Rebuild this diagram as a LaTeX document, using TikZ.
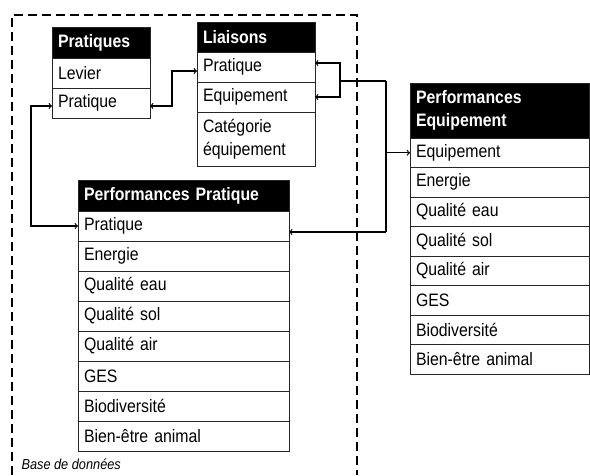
\documentclass[tikz,border=0pt]{standalone}
\usepackage{fontspec}
\setmainfont{Liberation Sans}[FakeStretch=0.88]
\usetikzlibrary{positioning}

\tikzset{
  box/.style={draw=black!85, line width=0.8pt, outer sep=0pt, inner xsep=6pt, inner ysep=0pt,
    minimum height=30pt, align=left, text width=#1, anchor=north west,
    font=\fontsize{18}{23}\selectfont},
  hdr/.style={box=#1, fill=black, text=white, font=\fontsize{18}{23}\selectfont\bfseries},
  cell/.style={box=#1, fill=white},
  link/.style={line width=1.2pt},
}

\begin{document}
\begin{tikzpicture}[x=1pt,y=1pt]
    \useasboundingbox (0,0) rectangle (590,-475);

    % Base de donnees frame
    \draw[line width=1.2pt, dash pattern=on 9pt off 5pt] (12,-475) |- (357,-15) -- (357,-475);
    \node[anchor=west, font=\fontsize{14.5}{16}\selectfont\itshape] (base) at (18,-464) {Base de données};

    % Table Pratiques
    \node[hdr=86pt, minimum height=31pt] (pratTitle) at (52,-27) {Pratiques};
    \node[cell=86pt, below=0pt of pratTitle] (pratLevier) {Levier};
    \node[cell=86pt, below=0pt of pratLevier] (pratPratique) {Pratique};

    % Table Liaisons
    \node[hdr=106pt] (liaTitle) at (197,-22) {Liaisons};
    \node[cell=106pt, below=0pt of liaTitle] (liaPratique) {Pratique};
    \node[cell=106pt, below=0pt of liaPratique] (liaEquip) {Equipement};
    \node[cell=106pt, below=0pt of liaEquip, minimum height=54pt] (liaCat) {Catégorie\\équipement};

    % Table Performances Pratique
    \node[hdr=199pt, minimum height=31pt] (ppTitle) at (78,-180) {Performances Pratique};
    \node[cell=199pt, below=0pt of ppTitle] (ppPratique) {Pratique};
    \node[cell=199pt, below=0pt of ppPratique] (ppEnergie) {Energie};
    \node[cell=199pt, below=0pt of ppEnergie] (ppEau) {Qualité eau};
    \node[cell=199pt, below=0pt of ppEau] (ppSol) {Qualité sol};
    \node[cell=199pt, below=0pt of ppSol] (ppAir) {Qualité air};
    \node[cell=199pt, below=0pt of ppAir] (ppGes) {GES};
    \node[cell=199pt, below=0pt of ppGes] (ppBio) {Biodiversité};
    \node[cell=199pt, below=0pt of ppBio] (ppBien) {Bien-être animal};

    % Table Performances Equipement
    \node[hdr=167pt, minimum height=55pt] (peTitle) at (410,-83) {Performances\\Equipement};
    \node[cell=167pt, minimum height=29.5pt, below=0pt of peTitle] (peEquip) {Equipement};
    \node[cell=167pt, minimum height=29.5pt, below=0pt of peEquip] (peEnergie) {Energie};
    \node[cell=167pt, minimum height=29.5pt, below=0pt of peEnergie] (peEau) {Qualité eau};
    \node[cell=167pt, minimum height=29.5pt, below=0pt of peEau] (peSol) {Qualité sol};
    \node[cell=167pt, minimum height=29.5pt, below=0pt of peSol] (peAir) {Qualité air};
    \node[cell=167pt, minimum height=29.5pt, below=0pt of peAir] (peGes) {GES};
    \node[cell=167pt, minimum height=29.5pt, below=0pt of peGes] (peBio) {Biodiversité};
    \node[cell=167pt, minimum height=29.5pt, below=0pt of peBio] (peBien) {Bien-être animal};

    % Links
    \coordinate (busTop) at (386,-81);
    \coordinate (busBot) at (386,-232);
    \coordinate (liaJoin) at (340,-81);
    \draw[link, <->] ([yshift=-3pt]pratPratique.east) -- ++(22,0) |- ([yshift=-4pt]liaPratique.west);
    \draw[link, <->] ([yshift=-3pt]pratPratique.west) -- ++(-21,0) |- (ppPratique.west);
    \draw[link] (busTop) -- (liaJoin) (busTop) -- (busBot);
    \draw[link, ->] (liaJoin) |- ([yshift=4pt]liaPratique.east);
    \draw[link, ->] (liaJoin) |- (liaEquip.east);
    \draw[link, ->] (busTop |- peEquip.west) -- (peEquip.west);
    \draw[link, ->] (busBot) -- (busBot -| ppPratique.east);
\end{tikzpicture}
\end{document}
